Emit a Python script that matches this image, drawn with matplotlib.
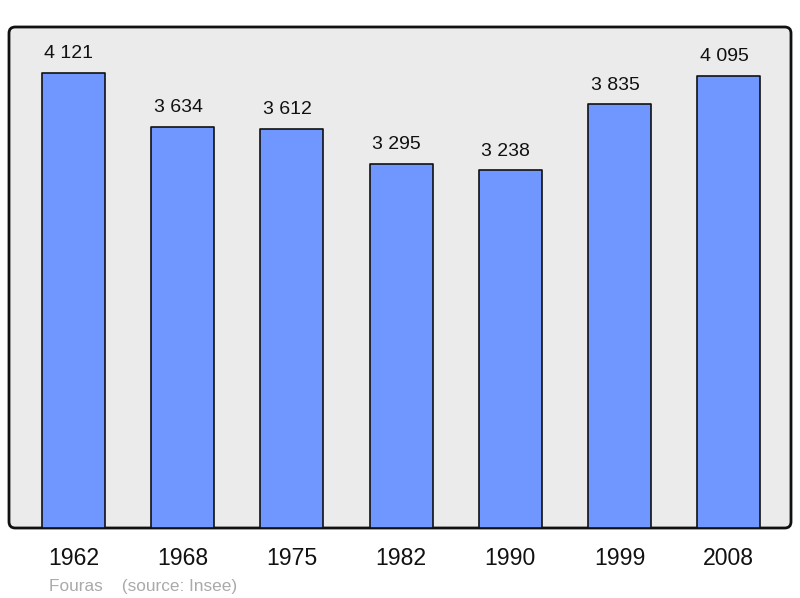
import matplotlib
matplotlib.use("Agg")
import matplotlib.pyplot as plt
from matplotlib.patches import FancyBboxPatch

years = ["1962", "1968", "1975", "1982", "1990", "1999", "2008"]
population = [4121, 3634, 3612, 3295, 3238, 3835, 4095]
value_labels = ["4 121", "3 634", "3 612", "3 295", "3 238", "3 835", "4 095"]
caption = "Fouras    (source: Insee)"

plt.rcParams['font.family'] = ['Liberation Sans', 'DejaVu Sans']

fig = plt.figure(figsize=(8.0, 5.98), dpi=100)
ax = fig.add_axes([9/800, 70/598, 782/800, 501/598])
ax.set_facecolor('none')
for s in ax.spines.values():
    s.set_visible(False)

frame = FancyBboxPatch((0, 0), 1, 1, boxstyle="round,pad=0,rounding_size=0.008",
                       transform=ax.transAxes, facecolor='#ebebeb', edgecolor='#111111',
                       linewidth=2.0, zorder=0, clip_on=False, mutation_aspect=782/501)
ax.add_patch(frame)

x = list(range(len(years)))
bars = ax.bar(x, population, width=0.577, color='#7096ff', edgecolor='#111111',
              linewidth=1.2, zorder=2)
for b in bars:
    b.set_joinstyle('round')

for xi, v, lab in zip(x, population, value_labels):
    ax.annotate(lab, (xi, v), xytext=(-3.3, 10.5), textcoords='offset points',
                ha='center', va='baseline', fontsize=14, color='#111111')

ax.set_xlim(-0.589, 6.569)
ax.set_ylim(0, 4535)
ax.set_yticks([])
ax.set_xticks(x)
ax.set_xticklabels(years, fontsize=16.6, color='#111111')
ax.tick_params(axis='x', length=0, pad=14)

fig.text(49/800, 1 - 587/598, caption, fontsize=12.4, color='#aaaaaa', ha='left', va='center')

fig.savefig('out.png', dpi=100)
